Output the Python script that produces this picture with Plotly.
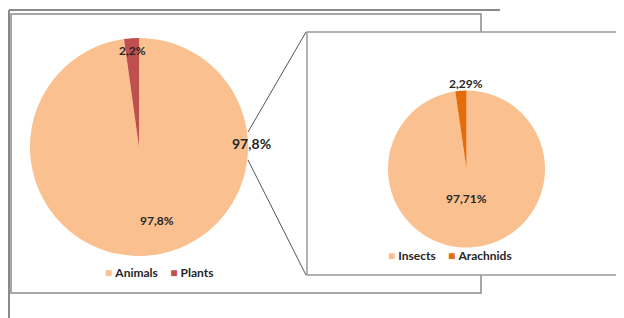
import plotly.graph_objects as go

# ---- data ----
main_labels = ["Animals", "Plants"]
main_values = [97.8, 2.2]
main_texts = ["97,8%", "2,2%"]
main_colors = ["#FAC08F", "#C0504D"]

sub_labels = ["Insects", "Arachnids"]
sub_values = [97.71, 2.29]
sub_texts = ["97,71%", "2,29%"]
sub_colors = ["#FAC08F", "#E46C0A"]

connector_label = "97,8%"

# page body has an 8px margin; map reference pixel coords into the figure
OX, OY = 8, 8
W, H = 616, 310
def fx(x):
    return (x - OX) / W
def fy(y):
    return 1 - (y - OY) / H

FONT = "Lato"
TXT = "#262626"

fig = go.Figure()
fig.add_trace(go.Pie(
    labels=main_labels, values=main_values, sort=False, direction="clockwise",
    rotation=0, textinfo="none", showlegend=False,
    marker=dict(colors=main_colors, line=dict(width=0)),
    domain=dict(x=[fx(30), fx(248)], y=[fy(256), fy(38)]),
))
fig.add_trace(go.Pie(
    labels=sub_labels, values=sub_values, sort=False, direction="clockwise",
    rotation=0, textinfo="none", showlegend=False,
    marker=dict(colors=sub_colors, line=dict(width=0)),
    domain=dict(x=[fx(388), fx(545)], y=[fy(248), fy(90)]),
))

line_gray = "#8a8a8a"
shapes = [
    # outer frame lines
    dict(type="line", x0=fx(9), x1=fx(9), y0=fy(10), y1=fy(318), line=dict(color=line_gray, width=2)),
    dict(type="line", x0=fx(9), x1=fx(500), y0=fy(10), y1=fy(10), line=dict(color=line_gray, width=2)),
    # inner rectangle
    dict(type="rect", x0=fx(11), x1=fx(481), y0=fy(293), y1=fy(14), line=dict(color=line_gray, width=1.5)),
    # zoom box
    dict(type="rect", x0=fx(307), x1=fx(622), y0=fy(275), y1=fy(32),
         line=dict(color="#999999", width=1.5), fillcolor="white"),
    # connector lines
    dict(type="line", x0=fx(248), x1=fx(306), y0=fy(132), y1=fy(32), line=dict(color="#555555", width=1)),
    dict(type="line", x0=fx(248), x1=fx(306), y0=fy(160), y1=fy(275), line=dict(color="#555555", width=1)),
]
for s in shapes:
    s["xref"] = "paper"
    s["yref"] = "paper"
    s["layer"] = "below" if s["type"] == "rect" else "above"

def ann(x, y, text, size=12):
    return dict(x=fx(x), y=fy(y), xref="paper", yref="paper", text=text, showarrow=False,
                font=dict(family=FONT, size=size, color=TXT), xanchor="center", yanchor="middle")

def legend_text(labels, colors):
    parts = [f"<span style='color:{c}'>■</span> <b>{l}</b>" for l, c in zip(labels, colors)]
    return "&nbsp;&nbsp;&nbsp;&nbsp;".join(parts)

annotations = [
    ann(157, 220, f"<b>{main_texts[0]}</b>"),
    ann(132, 51, f"<b>{main_texts[1]}</b>"),
    ann(251, 143, f"<b>{connector_label}</b>", size=14),
    ann(466, 198, f"<b>{sub_texts[0]}</b>"),
    ann(466, 83, f"<b>{sub_texts[1]}</b>"),
    ann(159, 272, legend_text(main_labels, main_colors)),
    ann(450, 255, legend_text(sub_labels, sub_colors)),
]

fig.update_layout(
    width=W, height=H, margin=dict(l=0, r=0, t=0, b=0),
    paper_bgcolor="white", plot_bgcolor="white",
    shapes=shapes, annotations=annotations, showlegend=False,
    font=dict(family=FONT),
)
fig.write_html("out.html")
